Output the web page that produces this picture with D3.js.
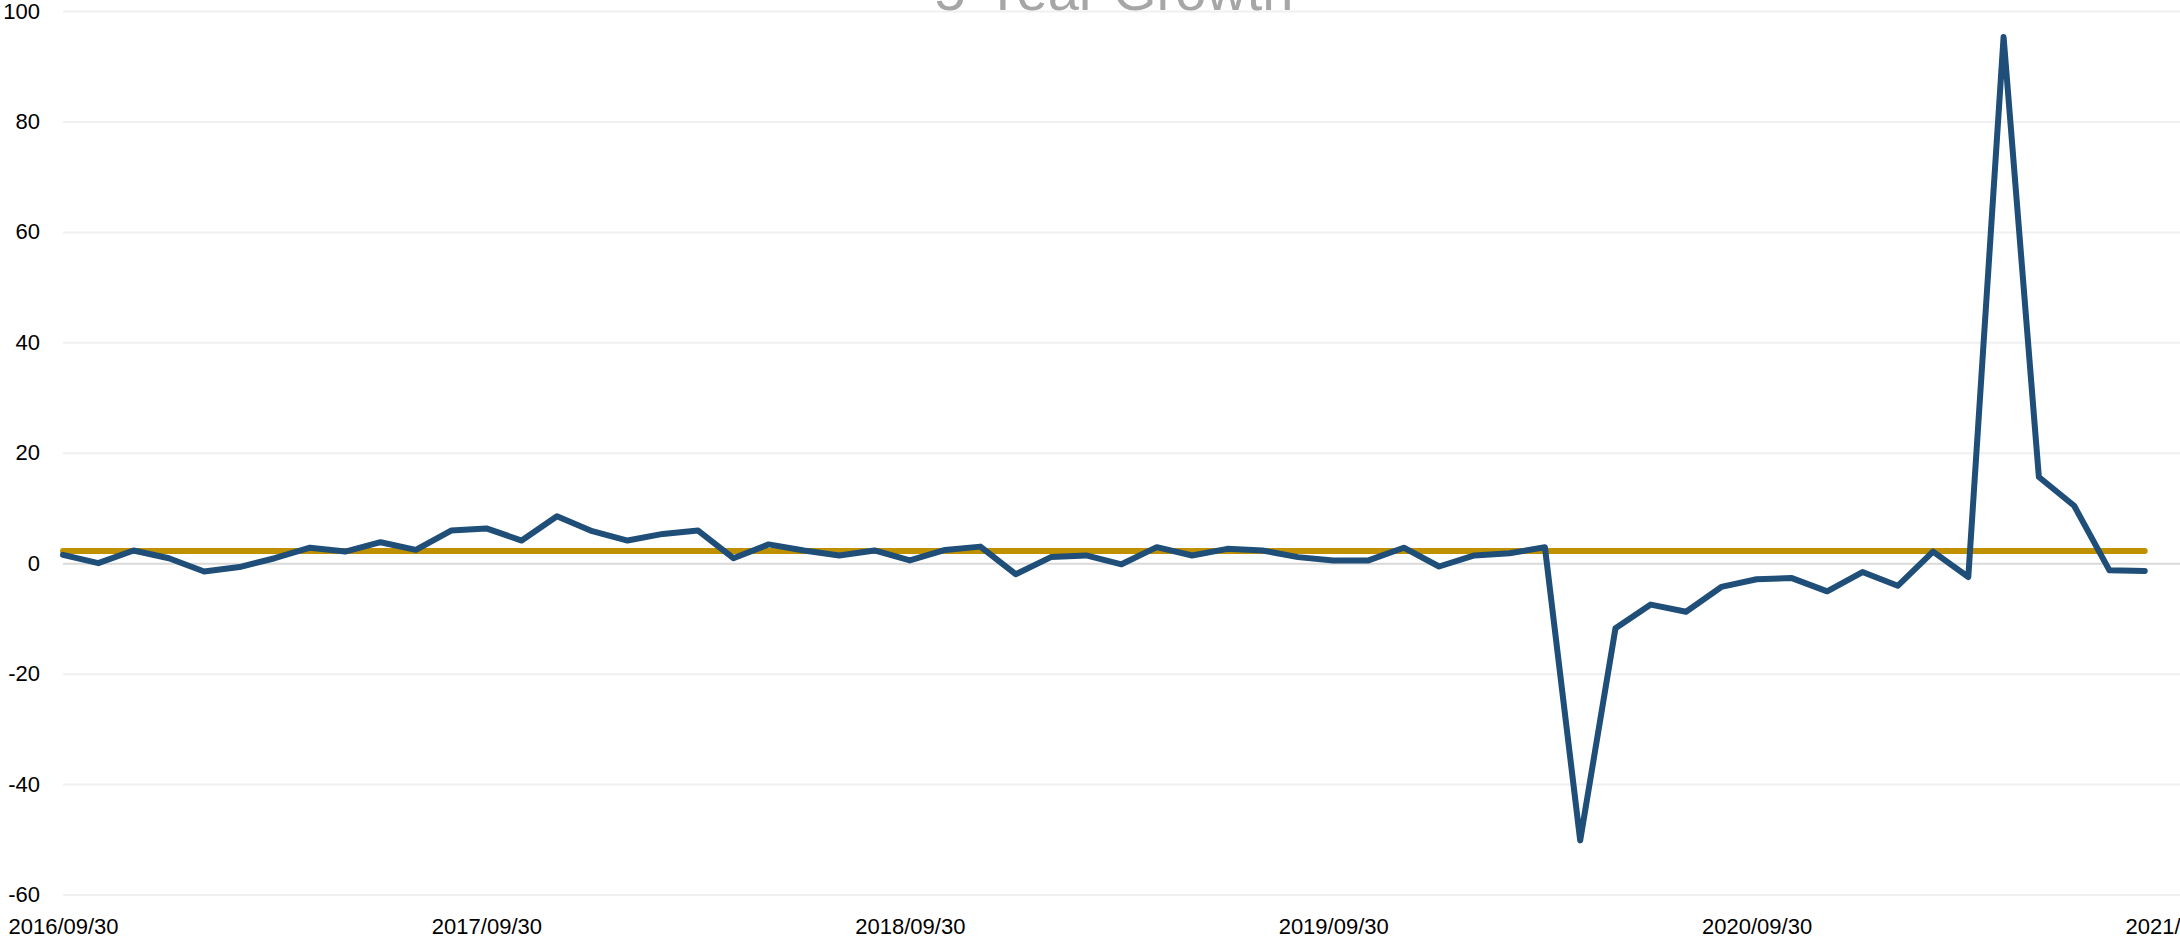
<!DOCTYPE html>
<html>
<head>
<meta charset="utf-8">
<script src="https://cdn.jsdelivr.net/npm/d3@7"></script>
<style>
  body { margin: 0; background: #fff; }
  svg { display: block; }
</style>
</head>
<body>
<script>
// Month-end categories (last one only carries the final tick label)
var months = [
  "2016/09/30","2016/10/31","2016/11/30","2016/12/31","2017/01/31","2017/02/28",
  "2017/03/31","2017/04/30","2017/05/31","2017/06/30","2017/07/31","2017/08/31",
  "2017/09/30","2017/10/31","2017/11/30","2017/12/31","2018/01/31","2018/02/28",
  "2018/03/31","2018/04/30","2018/05/31","2018/06/30","2018/07/31","2018/08/31",
  "2018/09/30","2018/10/31","2018/11/30","2018/12/31","2019/01/31","2019/02/28",
  "2019/03/31","2019/04/30","2019/05/31","2019/06/30","2019/07/31","2019/08/31",
  "2019/09/30","2019/10/31","2019/11/30","2019/12/31","2020/01/31","2020/02/29",
  "2020/03/31","2020/04/30","2020/05/31","2020/06/30","2020/07/31","2020/08/31",
  "2020/09/30","2020/10/31","2020/11/30","2020/12/31","2021/01/31","2021/02/28",
  "2021/03/31","2021/04/30","2021/05/31","2021/06/30","2021/07/31","2021/08/31",
  "2021/09/30"
];

// growth per month (one value for each month except the last tick)
var growth = [
  1.5, 0.0, 2.3, 0.9, -1.5, -0.7, 0.9, 2.8, 2.1, 3.8, 2.4, 5.9,
  6.3, 4.1, 8.5, 5.8, 4.1, 5.3, 5.9, 0.9, 3.4, 2.3, 1.4, 2.3,
  0.5, 2.4, 3.0, -2.0, 1.1, 1.4, -0.2, 2.9, 1.4, 2.6, 2.3, 1.1,
  0.5, 0.5, 2.8, -0.6, 1.4, 1.8, 2.9, -50.2, -11.8, -7.5, -8.8, -4.3,
  -2.9, -2.7, -5.1, -1.6, -4.1, 2.1, -2.5, 95.3, 15.6, 10.4, -1.3, -1.4
];

var avgGrowth = 2.2;   // flat average line

var tickLabels = ["2016/09/30","2017/09/30","2018/09/30","2019/09/30","2020/09/30","2021/09/30"];
var yTicks = [-60, -40, -20, 0, 20, 40, 60, 80, 100];

var W = 2180, H = 940,
    plotLeft = 63, plotRight = 2180,
    plotTop = 11, plotBottom = 894.5;

var svg = d3.select("body").append("svg")
  .attr("width", W)
  .attr("height", H);

var x = d3.scalePoint()
  .domain(months)
  .range([plotLeft, plotRight]);

var y = d3.scaleLinear()
  .domain([-60, 100])
  .range([plotBottom, plotTop]);

// Gridlines + y labels
var yAxis = svg.append("g")
  .attr("transform", "translate(" + plotLeft + ",0)")
  .call(d3.axisLeft(y)
    .tickValues(yTicks)
    .tickSize(-(plotRight - plotLeft))
    .tickPadding(23)
    .tickFormat(function(d) { return String(d); }));
yAxis.select(".domain").remove();
yAxis.selectAll(".tick line")
  .attr("stroke", function(d) { return d === 0 ? "#d9d9d9" : "#f0f0f0"; })
  .attr("stroke-width", 2);
yAxis.selectAll(".tick text")
  .attr("fill", "#000")
  .attr("font-family", "Liberation Sans, Arial, sans-serif")
  .attr("font-size", "22px");

// x labels
var xAxis = svg.append("g")
  .attr("transform", "translate(0," + plotBottom + ")")
  .call(d3.axisBottom(x)
    .tickValues(tickLabels)
    .tickSize(0)
    .tickPadding(24));
xAxis.select(".domain").remove();
xAxis.selectAll(".tick text")
  .attr("fill", "#000")
  .attr("font-family", "Liberation Sans, Arial, sans-serif")
  .attr("font-size", "22px");

var dataMonths = months.slice(0, growth.length);

// Average line
svg.append("path")
  .datum(dataMonths)
  .attr("d", d3.line()
    .x(function(d) { return x(d); })
    .y(function() { return y(avgGrowth); }))
  .attr("fill", "none")
  .attr("stroke", "#bf9000")
  .attr("stroke-width", 6)
  .attr("stroke-linecap", "round");

// Growth line
svg.append("path")
  .datum(growth)
  .attr("d", d3.line()
    .x(function(d, i) { return x(dataMonths[i]); })
    .y(function(d) { return y(d); }))
  .attr("fill", "none")
  .attr("stroke", "#1f4e79")
  .attr("stroke-width", 6)
  .attr("stroke-linejoin", "round")
  .attr("stroke-linecap", "round");

// Title (cut off at the top like the source)
svg.append("text")
  .text("5-Year Growth")
  .attr("x", 1114)
  .attr("y", 9.5)
  .attr("text-anchor", "middle")
  .attr("font-family", "Liberation Sans, Arial, sans-serif")
  .attr("font-size", "56px")
  .attr("fill", "#a6a6a6");
</script>
</body>
</html>
